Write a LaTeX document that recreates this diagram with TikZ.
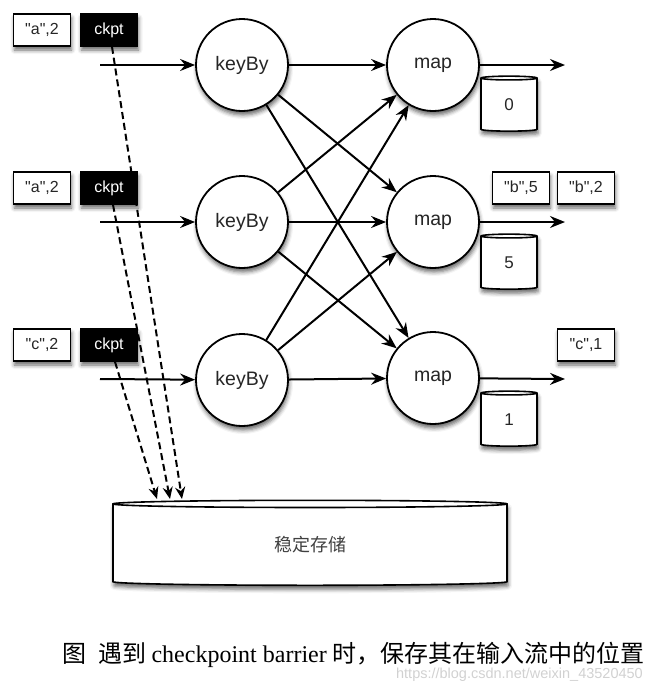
\documentclass[tikz,border=0pt]{standalone}
\usepackage{fontspec}
\setmainfont{Liberation Serif}
\setsansfont{Liberation Sans}
\newfontfamily\boxfont{Liberation Sans}
\newfontfamily\cjk{Noto Sans CJK SC}
\usetikzlibrary{arrows.meta,shapes.geometric,shadows.blur}

\tikzset{
  shade box/.style={blur shadow={shadow xshift=1pt,shadow yshift=-4pt,shadow blur radius=4pt,shadow opacity=60}},
  rec/.style={draw,line width=1.6pt,fill=white,minimum width=57pt,minimum height=32pt,inner sep=0pt,
    font=\boxfont\fontsize{16}{16}\selectfont,text=black!85,shade box},
  ckpt/.style={rec,fill=black,text=white},
  op/.style={circle,draw,line width=1.8pt,fill=white,minimum size=92pt,inner sep=0pt,
    font=\sffamily\fontsize{19.5}{19.5}\selectfont,text=black!85,shade box},
  store/.style={cylinder,shape border rotate=90,draw,line width=1.6pt,fill=white,inner sep=0pt,
    font=\sffamily\fontsize{17}{17}\selectfont,text=black!85,shade box},
  flow/.style={line width=2pt,-{Stealth[length=15pt,width=12pt,inset=5pt]}},
  ckflow/.style={line width=2pt,dash pattern=on 7pt off 4pt,-{Stealth[length=12pt,width=10pt,inset=4pt]}},
}

\begin{document}
\begin{tikzpicture}[x=1pt,y=-1pt]
\useasboundingbox (0,0) rectangle (653,691);

% storage at the bottom
\node[store,aspect=0.1,minimum width=394pt,minimum height=85pt,
  font=\cjk\fontsize{18}{18}\selectfont,text=black!75] (db) at (310,545) {稳定存储};
\coordinate (s1) at (182,499);
\coordinate (s2) at (170,499);
\coordinate (s3) at (157,499);

% 1st row
\node[rec] (r1) at (42,30) {"a",2};
\node[ckpt] (c1) at (109,30) {ckpt};
\draw[ckflow] ([xshift=3pt]c1.south) -- (s1);
% 2nd row
\node[rec] (r2) at (42,188) {"a",2};
\node[ckpt] (c2) at (109,188) {ckpt};
\draw[ckflow] ([xshift=4pt]c2.south) -- (s2);
% 3rd row
\node[rec] (r3) at (42,345) {"c",2};
\node[ckpt] (c3) at (109,345) {ckpt};
\draw[ckflow] ([xshift=6pt]c3.south) -- (s3);

% operators
\node[op] (k1) at (242,65) {keyBy};
\node[op] (k2) at (242,222) {keyBy};
\node[op] (k3) at (242,380) {keyBy};
\node[op] (m1) at (433,65) {map};
\node[op] (m2) at (433,222) {map};
\node[op] (m3) at (433,378) {map};

% state of each map
\node[store,aspect=0.4,minimum width=56pt,minimum height=55pt] (st1) at (509,105) {0};
\node[store,aspect=0.4,minimum width=56pt,minimum height=55pt] (st2) at (509,263) {5};
\node[store,aspect=0.4,minimum width=56pt,minimum height=55pt] (st3) at (509,420) {1};

% outputs
\node[rec] (o1) at (521,188) {"b",5};
\node[rec] (o2) at (586,188) {"b",2};
\node[rec] (o3) at (586,345) {"c",1};

% input streams
\coordinate (in1) at (100,65);
\coordinate (in2) at (100,222);
\coordinate (in3) at (100,379);
\draw[flow] (in1) -- (k1);
\draw[flow] (in2) -- (k2);
\draw[flow] (in3) -- (k3);

% keyBy to map
\draw[flow] (k1) -- (m1);
\draw[flow] (k1) -- (m2);
\draw[flow] (k1) -- (m3);
\draw[flow] (k2) -- (m1);
\draw[flow] (k2) -- (m2);
\draw[flow] (k2) -- (m3);
\draw[flow] (k3) -- (m1);
\draw[flow] (k3) -- (m2);
\draw[flow] (k3) -- (m3);

% output streams
\coordinate (out1) at (565,65);
\coordinate (out2) at (565,222);
\coordinate (out3) at (565,379);
\draw[flow] (m1) -- (out1);
\draw[flow] (m2) -- (out2);
\draw[flow] (m3) -- (out3);

% caption
\node[font=\fontsize{24}{24}\selectfont,anchor=west,inner sep=0pt] (cap) at (62,655)
  {\cjk 图\hspace{12pt}遇到 {\rmfamily checkpoint barrier} 时，保存其在输入流中的位置};
\node[font=\sffamily\fontsize{14.5}{14.5}\selectfont,text=black!18,anchor=east,inner sep=0pt] (wm) at (643,675)
  {https://blog.csdn.net/weixin\_43520450};
\end{tikzpicture}
\end{document}
